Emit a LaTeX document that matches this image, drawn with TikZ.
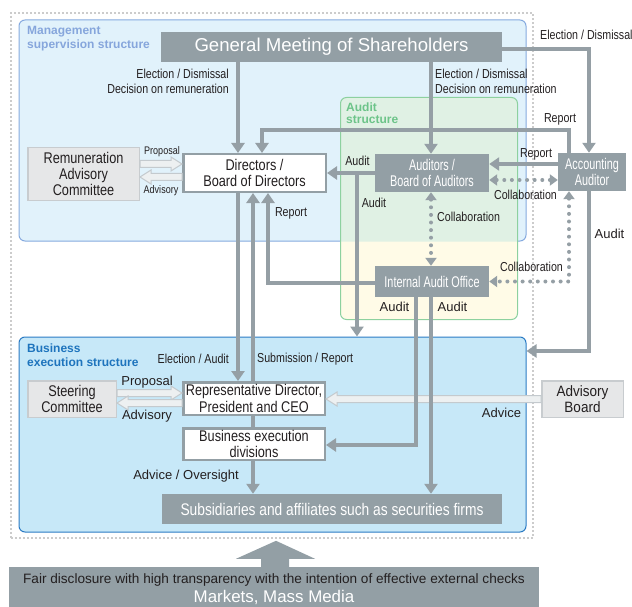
\documentclass[tikz,border=0pt]{standalone}
\usepackage{fontspec}
\setmainfont{Liberation Sans}
\newfontfamily\nar[FakeStretch=0.82]{Liberation Sans}
\newfontfamily\narw[FakeStretch=0.7]{Liberation Sans}
\newfontfamily\narb[FakeStretch=0.9]{Liberation Sans}
\usetikzlibrary{arrows.meta,calc}
\definecolor{boxgray}{HTML}{939FA5}
\definecolor{linegray}{HTML}{959FA5}
\definecolor{softfill}{HTML}{E6E7E8}
\definecolor{softline}{HTML}{C8CCCF}
\definecolor{mgmtfill}{HTML}{E1F2FB}
\definecolor{mgmtline}{HTML}{86AADF}
\definecolor{mgmttext}{HTML}{86A6DC}
\definecolor{busfill}{HTML}{C7E8F8}
\definecolor{busline}{HTML}{2B7BC4}
\definecolor{bustext}{HTML}{1E74BD}
\definecolor{audgreen}{HTML}{E0F1E4}
\definecolor{audyellow}{HTML}{FFFBE7}
\definecolor{audline}{HTML}{8DD19F}
\definecolor{audtext}{HTML}{6DC489}
\definecolor{framegray}{HTML}{CCCCCC}
\definecolor{hollowfill}{HTML}{EDF0F1}
\definecolor{hollowline}{HTML}{C4CACE}
\definecolor{textdark}{HTML}{231F20}
\newcommand\hollowarrow[2]{%
  \path (#1) coordinate (hA) (#2) coordinate (hB);
  \path ($(hB)!11pt!(hA)$) coordinate (hC);
  \filldraw[hollowstyle] ($(hA)!3.5pt!90:(hB)$) -- ($(hC)!3.5pt!90:(hB)$) -- ($(hC)!7pt!90:(hB)$) -- (hB) -- ($(hC)!7pt!-90:(hB)$) -- ($(hC)!3.5pt!-90:(hB)$) -- ($(hA)!3.5pt!-90:(hB)$) -- cycle;}
\begin{document}
\begin{tikzpicture}[x=1pt,y=-1pt,
  arr/.style={draw=linegray, line width=4.5pt, -{Triangle[length=10pt,width=13pt]}},
  plainline/.style={draw=linegray, line width=4.5pt},
  dotarr/.style={draw=linegray, line width=4pt, line cap=round, dash pattern=on 0pt off 7.6pt, {Triangle[length=8pt,width=11pt]}-{Triangle[length=8pt,width=11pt]}},
  hollowstyle/.style={draw=hollowline, fill=hollowfill, line width=1pt, line join=miter},
  container/.style={rounded corners=6pt, inner sep=0, line width=1pt},
  graybox/.style={fill=boxgray, text=white, inner sep=0, align=center},
  whitebox/.style={fill=white, draw=boxgray, line width=2.5pt, inner sep=0, align=center, text=textdark, font=\nar\fontsize{15.5}{16.5}\selectfont},
  softbox/.style={fill=softfill, draw=softline, line width=1.5pt, inner sep=0, align=center, text=textdark, font=\nar\fontsize{15.5}{16}\selectfont},
  lbl/.style={inner sep=0, text=textdark, font=\nar\fontsize{13}{15}\selectfont},
  lbln/.style={inner sep=0, text=textdark, font=\fontsize{13}{15}\selectfont},
  lbls/.style={inner sep=0, text=textdark, font=\nar\fontsize{11}{13}\selectfont},
  ttl/.style={inner sep=0, anchor=north west, align=left, font=\bfseries\fontsize{12}{14}\selectfont}]
\useasboundingbox (0,0) rectangle (632,607);
% helper coordinates
\foreach \x in {238,253,262,268,357,416,431,569,589} {\coordinate (X\x) at (\x,0);}
\foreach \y in {49,130,164,173,177,180,283,351,393,399,403,445} {\coordinate (Y\y) at (0,\y);}
% containers
\node[draw=framegray, line width=2pt, dash pattern=on 2pt off 2pt, inner sep=0, minimum width=522pt, minimum height=525pt] (frame) at (272,275.5) {};
\node[container, draw=mgmtline, fill=mgmtfill, minimum width=507pt, minimum height=221pt] (mgmt) at (272.5,130.5) {};
\node[container, fill=audyellow, minimum width=176pt, minimum height=221pt] (audit) at (429,208.5) {};
\begin{scope}
  \clip[rounded corners=6pt] (mgmt.south west) rectangle (mgmt.north east);
  \fill[audgreen, rounded corners=6pt] (audit.south west) rectangle (audit.north east);
\end{scope}
\draw[audline, line width=1pt, rounded corners=6pt] (audit.south west) rectangle (audit.north east);
\node[container, draw=busline, fill=busfill, minimum width=507pt, minimum height=195pt] (bus) at (272.5,434.5) {};
% titles
\node[ttl, text=mgmttext] (tmgmt) at (27,26) {Management\\supervision structure};
\node[ttl, text=audtext, font=\bfseries\fontsize{12}{12}\selectfont] (taud) at (346,102.5) {Audit\\structure};
\node[ttl, text=bustext] (tbus) at (27,344) {Business\\execution structure};
% boxes
\node[graybox, minimum width=341pt, minimum height=30pt, font=\fontsize{18.6}{20}\selectfont] (gm) at (331.5,47) {General Meeting of Shareholders};
\node[whitebox, minimum width=142.5pt, minimum height=37.5pt] (dir) at (254.5,173) {Directors /\\Board of Directors};
\node[softbox, minimum width=111.5pt, minimum height=52.5pt] (rac) at (83.5,174) {Remuneration\\Advisory\\Committee};
\node[graybox, minimum width=114pt, minimum height=38pt, font=\narw\fontsize{15.5}{16.5}\selectfont] (aud) at (432,173) {Auditors /\\Board of Auditors};
\node[graybox, minimum width=68pt, minimum height=38pt, font=\narw\fontsize{15.5}{16.5}\selectfont] (acc) at (592,172) {Accounting\\Auditor};
\node[graybox, minimum width=114pt, minimum height=31pt, font=\narw\fontsize{15.5}{16.5}\selectfont] (iao) at (432,281.5) {Internal Audit Office};
\node[softbox, minimum width=88.5pt, minimum height=36.5pt] (sc) at (72,399) {Steering\\Committee};
\node[whitebox, minimum width=141.5pt, minimum height=32.5pt] (rep) at (254,398.5) {Representative Director,\\President and CEO};
\node[whitebox, minimum width=141.5pt, minimum height=31.5pt] (bed) at (254,444) {Business execution\\divisions};
\node[graybox, minimum width=340pt, minimum height=30pt, font=\nar\fontsize{16.8}{18}\selectfont] (sub) at (332,509) {Subsidiaries and affiliates such as securities firms};
\node[softbox, minimum width=81.5pt, minimum height=36.5pt, font=\narb\fontsize{15}{16}\selectfont] (ab) at (582.5,399) {Advisory\\Board};
\node[graybox, minimum width=530pt, minimum height=45pt, font=\fontsize{16.9}{19}\selectfont] (fair) at (274,589.5) {{\color{textdark}\fontsize{13.6}{16}\selectfont Fair disclosure with high transparency with the intention of effective external checks}\\Markets, Mass Media};
% big up arrow
\fill[boxgray] ([xshift=-13pt]fair.north) -- ++(0,-8) -- ++(-25,0) -- ++(40,-18) -- ++(39,18) -- ++(-26,0) -- ++(0,8) -- cycle;
% hollow arrows
\hollowarrow{rac.east |- Y164}{dir.west |- Y164}
\hollowarrow{dir.west |- Y177}{rac.east |- Y177}
\hollowarrow{sc.east |- Y393}{rep.west |- Y393}
\hollowarrow{rep.west |- Y403}{sc.east |- Y403}
\hollowarrow{ab.west |- Y399}{rep.east |- Y399}
% thick connectors
\draw[arr] (gm.south -| X238) -- (dir.north -| X238);
\draw[arr] (gm.south -| X431) -- (aud.north -| X431);
\draw[arr] (gm.east |- Y49) -| (acc.north -| X589);
\draw[arr] (acc.north -| X569) -- (X569 |- Y130) -| (dir.north -| X262);
\draw[arr] (acc.west |- Y164) -- (aud.east |- Y164);
\draw[arr] (aud.west |- Y173) -- (dir.east |- Y173);
\draw[arr] (X357 |- Y173) -- (bus.north -| X357);
\draw[arr] (acc.south -| X589) |- (bus.east |- Y351);
\draw[arr] (iao.west |- Y283) -| (dir.south -| X268);
\draw[arr] (dir.south -| X238) -- (rep.north -| X238);
\draw[arr] (rep.north -| X253) -- (dir.south -| X253);
\draw[plainline] (rep.south -| X253) -- (bed.north -| X253);
\draw[arr] (bed.south -| X253) -- (sub.north -| X253);
\draw[arr] (iao.south -| X416) |- (bed.east |- Y445);
\draw[arr] (iao.south -| X431) -- (sub.north -| X431);
% dotted collaboration
\draw[dotarr] (aud.east |- Y180) -- (acc.west |- Y180);
\draw[dotarr] (aud.south -| X431) -- (iao.north -| X431);
\draw[dotarr] (acc.south -| X569) |- (iao.east);
% labels
\node[lbl, anchor=east, align=right] (l1) at (229,81.5) {Election / Dismissal\\Decision on remuneration};
\node[lbl, anchor=west, align=left] (l2) at (435,81.5) {Election / Dismissal\\Decision on remuneration};
\node[lbl, anchor=west] (l3) at (540,35) {Election / Dismissal};
\node[lbl] (l4) at (560,119) {Report};
\node[lbl] (l5) at (536,154) {Report};
\node[lbl] (l6) at (525.5,195) {Collaboration};
\node[lbl] (l7) at (357.5,161) {Audit};
\node[lbl] (l8) at (374,203) {Audit};
\node[lbl, anchor=west] (l9) at (437,217) {Collaboration};
\node[lbl] (l10) at (531.5,267) {Collaboration};
\node[lbln] (l11) at (609.5,234) {Audit};
\node[lbl] (l12) at (291,213) {Report};
\node[lbl, anchor=east] (l13) at (229,359) {Election / Audit};
\node[lbl, anchor=west] (l14) at (257,359) {Submission / Report};
\node[lbln, anchor=east] (l15) at (239,476) {Advice / Oversight};
\node[lbln] (l16) at (394.5,307) {Audit};
\node[lbln] (l17) at (452.5,307) {Audit};
\node[lbls] (l18) at (162,152) {Proposal};
\node[lbls] (l19) at (161,191) {Advisory};
\node[lbln] (l20) at (147,382) {Proposal};
\node[lbln] (l21) at (147,416) {Advisory};
\node[lbln] (l22) at (501.5,413) {Advice};
\end{tikzpicture}
\end{document}
